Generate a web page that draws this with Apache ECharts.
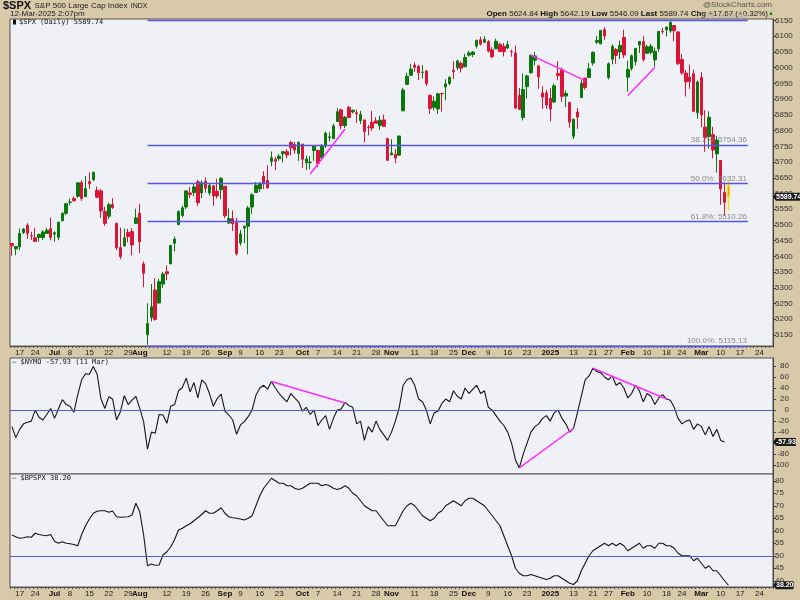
<!DOCTYPE html>
<html><head><meta charset="utf-8">
<script src="https://cdn.jsdelivr.net/npm/echarts@6/dist/echarts.min.js"></script>
<style>html,body{margin:0;padding:0;background:#D8C9A9}#c{width:800px;height:600px}</style>
</head><body><div id="c"></div><script>
// ---------- categories ----------
const startDate = '2024-06-13', endDate = '2025-03-27';
const holidays = ['2024-06-19','2024-07-04','2024-09-02','2024-11-28','2024-12-25','2025-01-01','2025-01-09','2025-01-20','2025-02-17'];
const tickLabels = [['2024-06-17','17'],['2024-06-24','24'],['2024-07-01','Jul'],['2024-07-08','8'],['2024-07-15','15'],['2024-07-22','22'],['2024-07-29','29'],['2024-08-01','Aug'],['2024-08-12','12'],['2024-08-19','19'],['2024-08-26','26'],['2024-09-03','Sep'],['2024-09-09','9'],['2024-09-16','16'],['2024-09-23','23'],['2024-10-01','Oct'],['2024-10-07','7'],['2024-10-14','14'],['2024-10-21','21'],['2024-10-28','28'],['2024-11-01','Nov'],['2024-11-11','11'],['2024-11-18','18'],['2024-11-25','25'],['2024-12-02','Dec'],['2024-12-09','9'],['2024-12-16','16'],['2024-12-23','23'],['2025-01-02','2025'],['2025-01-13','13'],['2025-01-21','21'],['2025-01-27','27'],['2025-02-03','Feb'],['2025-02-10','10'],['2025-02-18','18'],['2025-02-24','24'],['2025-03-03','Mar'],['2025-03-10','10'],['2025-03-17','17'],['2025-03-24','24']];
const boldLabels = ['Jul','Aug','Sep','Oct','Nov','Dec','2025','Feb','Mar'];

// ---------- $SPX daily OHLC ----------
const opens = [5441,5424,5431,5476,5499,5466,5459,5460,5460,5473,
5488,5471,5461,5513,5537,5572,5584,5591,5635,5590,
5638,5644,5610,5608,5543,5528,5565,5505,5428,5433,
5476,5479,5505,5537,5376,5151,5206,5293,5252,5312,
5351,5376,5442,5501,5530,5557,5602,5603,5637,5602,
5639,5602,5624,5607,5612,5623,5506,5520,5507,5443,
5490,5496,5557,5603,5615,5655,5641,5702,5709,5711,
5727,5733,5762,5756,5727,5757,5698,5698,5737,5737,
5713,5751,5778,5775,5829,5866,5816,5874,5860,5857,
5832,5834,5810,5827,5831,5816,5834,5775,5723,5725,
5722,5863,5947,5976,6008,6004,5985,5989,5912,5874,
5869,5918,5939,5950,5992,6000,6014,6003,6040,6042,
6069,6089,6081,6083,6057,6060,6074,6068,6063,6052,
6047,5912,5842,5940,5984,6024,6006,5920,5920,5903,
5891,5982,5994,5910,5890,5782,5859,5905,5967,5969,
6015,6081,6076,6121,5969,6027,6058,6050,6096,5970,
5998,6020,6072,6083,6046,6049,6025,6060,6115,6121,
6117,6134,6114,6026,5983,5970,5981,5857,5969,5811,
5781,5787,5726,5705,5603,5624.84];
const highs = [5441.9,5432,5488.5,5490.4,5505.5,5478.3,5490.7,5472.9,5483.1,5490.8,
5523.6,5479.5,5509.7,5539.3,5570.3,5583.1,5590.8,5635.4,5642.5,5655.6,
5666.9,5669.7,5622.5,5614.1,5557.5,5570.4,5585.3,5508,5491.6,5488.7,
5487.7,5489.5,5551.4,5566.2,5383.9,5250.9,5312.3,5330.6,5328,5351,
5371.2,5436.5,5463.2,5546.2,5561,5608.3,5620.5,5632.7,5643.2,5641.8,
5651.6,5631.2,5627,5646.9,5651.4,5623.3,5552.7,5546.3,5522.5,5484.2,
5497.9,5560.4,5600.7,5636.3,5636.1,5670.8,5689.7,5733.6,5715.1,5725.4,
5735.3,5741,5767.4,5763.8,5765.1,5757.7,5720.3,5718.8,5753.3,5739.3,
5757.6,5796.8,5795,5822.1,5871.4,5870.4,5846.5,5878.5,5866.9,5866.9,
5863,5834.9,5817.8,5862.8,5842.9,5847.2,5850.9,5775.3,5772.5,5741.4,
5783.4,5936.1,5983.8,6012.5,6017.3,6009.9,6008.2,5993.9,5915.3,5909,
5920.7,5920.7,5963.3,5972.9,6020.8,6025.4,6020.2,6044.2,6053.6,6052.7,
6089.8,6099,6100,6088.5,6065.4,6092.6,6079.7,6078.6,6085.2,6057.7,
6070.7,5935.5,5982.1,5978.3,6040.1,6049.8,6006.2,5940.8,5929.7,5935.1,
5949.3,6021,6000.7,5927.9,5890.6,5837.3,5871.9,5960.6,5967.9,6014.9,
6051.5,6100.8,6118.7,6128.2,6017.2,6074.5,6062.8,6086.6,6120.9,6022.1,
6042.5,6062.9,6084,6101.3,6073.4,6076.3,6063.9,6116.9,6127.5,6129.6,
6147.4,6134.5,6114.8,6043.7,5992.6,6009.8,5993.7,5959.4,5986.1,5865.1,
5860.6,5812.1,5783,5705.4,5636.3,5642.19];
const lows = [5402.5,5403.8,5420.4,5471.3,5455.6,5452,5447.6,5446.6,5451.9,5471.3,
5451.1,5446.5,5451.1,5513,5531.6,5562.5,5574.6,5586.4,5576.5,5589.5,
5614.8,5639,5584.8,5522.8,5497,5518.8,5550.9,5419.9,5390.9,5430.7,
5444.4,5403.6,5504,5410.4,5302,5119.3,5193.6,5195.5,5249.8,5300.6,
5324.4,5376,5415.8,5501,5525.2,5550.7,5585.5,5591.6,5560.9,5585.2,
5602.3,5593.5,5560.9,5583.7,5581.3,5521.1,5503.7,5480.8,5402.6,5434.5,
5441.7,5406.9,5535.5,5601.6,5604.5,5614.1,5615.1,5686.4,5674.5,5704.2,
5698.9,5712.1,5721,5727.3,5703.5,5681.3,5674.5,5677.3,5702.8,5683.5,
5705.2,5745,5764.8,5775,5829,5804.5,5808.4,5840.3,5854.2,5824.8,
5821.2,5762.4,5784.9,5799.9,5823.1,5802.4,5811.3,5703.6,5722.5,5696.5,
5721.5,5862.5,5946.5,5975.5,5986.7,5960.1,5965.9,5942.3,5853,5865.1,
5853.3,5860.6,5896.4,5944.4,5963.9,5992.3,5984.9,6003,6035.3,6033.4,
6061.1,6070.7,6079,6048.6,6029.9,6060,6051.2,6035.8,6059.1,6035.2,
5867.8,5866.1,5832.3,5902.6,5981.4,6007.4,5932.9,5869.2,5868.9,5829.5,
5888.7,5960,5890.7,5874.8,5809.4,5773.4,5805.5,5905,5930.2,5969,
6006.9,6076.1,6074.7,6088.7,5962.9,6010.8,6012.7,6027.5,6030.9,5923.9,
5990.9,6007.1,6046.8,6019.96,6044.8,6042.3,6003,6051,6107.6,6099.5,
6111.2,6084.6,6008.6,5977.8,5908.5,5932.7,5858.8,5837.7,5810.9,5732.6,
5742.4,5711.6,5666.3,5564,5528.4,5546.09];
const closes = [5433.7,5431.6,5473.2,5487,5473.2,5464.6,5447.9,5469.3,5477.9,5482.9,
5460.5,5475.1,5509,5537,5567.2,5572.9,5577,5633.9,5584.5,5615.4,
5631.2,5667.2,5588.3,5544.6,5505,5564.4,5555.7,5427.1,5399.2,5459.1,
5463.5,5436.4,5522.3,5446.7,5346.6,5186.3,5240,5199.5,5319.3,5344.2,
5344.4,5434.4,5455.2,5543.2,5554.3,5608.3,5597.1,5620.9,5570.6,5634.6,
5616.8,5625.8,5592.2,5592,5648.4,5528.9,5520.1,5503.4,5408.4,5471.1,
5495.5,5554.1,5595.8,5626,5633.1,5634.6,5618.3,5713.6,5702.6,5718.6,
5732.9,5722.3,5745.4,5738.2,5762.5,5708.8,5709.5,5699.9,5751.1,5695.9,
5751.1,5792,5780.1,5815,5859.9,5815.3,5842.5,5841.5,5864.7,5854,
5851.2,5797.4,5809.9,5808.1,5823.5,5832.9,5813.7,5705.5,5728.8,5712.7,
5782.8,5929,5973.1,5995.5,6001.4,5984,5985.4,5949.2,5870.6,5893.6,
5917,5917.1,5948.7,5969.3,5987.4,6021.6,5998.7,6032.4,6047.2,6049.9,
6086.5,6075.1,6090.3,6052.9,6034.9,6084.2,6051.3,6051.1,6074.1,6050.6,
5872.2,5867.1,5930.9,5974.1,6040,6037.6,5970.8,5906.9,5881.6,5868.6,
5942.5,5975.4,5909,5918.3,5827,5836.2,5842.9,5949.9,5937.3,5996.7,
6049.2,6086.4,6118.7,6101.2,6012.3,6067.7,6039.3,6071.2,6040.5,5994.6,
6037.9,6061.5,6083.6,6026,6066.4,6068.5,6052,6115.1,6114.6,6129.6,
6144.2,6117.5,6013.1,5983.3,5955.3,5956.1,5861.6,5954.5,5849.7,5778.2,
5842.6,5738.5,5770.2,5614.6,5572.1,5589.74];

// ---------- $NYMO ----------
const nymo = [-30,-50,-35,-25,-22,-20,0,-13,-18,-8,
3,-15,2,19,10,7,-4,28,55,66,
65,79,65,20,3,24,20,-18,-3,26,
10,18,25,3,-21,-71,-40,-42,-8,-9,
-24,7,10,35,41,58,33,50,22,55,
48,30,7,21,29,-2,-9,-18,-44,-27,
-21,-12,0,27,40,45,38,52,40,30,
22,15,30,22,15,-2,5,-8,0,-28,
-18,-10,-35,-15,0,2,14,8,5,-25,
-20,-55,-30,-40,-20,-35,-45,-55,-40,-20,
5,45,55,58,45,20,15,0,-25,-5,
-2,12,20,15,35,25,20,40,30,38,
45,30,35,5,0,-10,-20,-28,-40,-60,
-90,-105,-80,-60,-40,-30,-25,-15,-10,-20,
-5,0,-15,-25,-40,-33,-5,25,55,62,
76,70,68,60,55,62,45,50,40,22,
30,45,35,15,30,25,10,22,28,20,
18,5,-15,-25,-20,-18,-35,-25,-30,-45,
-30,-48,-35,-55,-57.93];

// ---------- $BPSPX ----------
const bpspx = [58.3,57.6,57,57.2,57.6,57.4,59,58.5,58.2,58,
58.5,55.8,55,55.6,55,54.8,54.5,54,58.5,62,
64.7,67,67.8,68,68,67.4,67.9,65.6,65.4,65.5,
65.6,66.3,71,67.6,58.3,46,46.7,46.2,46.3,50.3,
51.6,53.5,56.5,60.3,61,62,62.8,64,65.2,66.5,
68,67,67,68,69.2,67,65.6,65.2,65,64.7,
64.3,65,66,70,74,77,79,81,80,79,
79,78,78,77,76.5,77,78,79,79,79,
78,78.5,78,77,76.5,77,78,77,75,74,
72,70,69,68,68,66,64,62,62,62,
65,68,70,71,70,68,66,65,64,65,
67,68,70,71,72,71,70,72,73,73,
72,71,70,68,66,64,62,58,54,50,
45,43,42,42,42.5,42,41.5,41,40.5,41,
42,42,41,40,39,38.5,40,44,47,50,
52,53,54,55,54,55,54,55,54,52,
53,54,55,53,54,54,53,55,55,54,
54,53,51,50,50,50,48,49,47,45,
46,44,44,42,40,38.2];

// ---------- annotations ----------
const fibLevels = [6149.49, 5754.36, 5632.31, 5510.26, 5115.13];
const fibLabels = ['0.0%: 6149.49', '38.2%: 5754.36', '50.0%: 5632.31', '61.8%: 5510.26', '100.0%: 5115.13'];
const fibStart = '2024-08-05', fibEnd = '2025-03-19';
const priceTrendLines = [[['2024-10-03', 5662], ['2024-10-16', 5805]], [['2024-12-24', 6040], ['2025-01-16', 5959]], [['2025-02-03', 5912], ['2025-02-12', 6001]]];
const nymoTrendLines = [[['2024-09-19', 52], ['2024-10-16', 13]], [['2024-12-19', -105], ['2025-01-13', -33]], [['2025-01-21', 76], ['2025-02-18', 20]]];
const priceTicks = [5150,5200,5250,5300,5350,5400,5450,5500,5550,5600,5650,5700,5750,5800,5850,5900,5950,6000,6050,6100,6150];
const nymoTicks = [-100,-80,-60,-40,-20,0,20,40,60,80];
const bpspxTicks = [40,45,50,55,60,65,70,75,80];

function tradingDays() {
  const out = [];
  let t = Date.parse(startDate + 'T00:00:00Z');
  const e = Date.parse(endDate + 'T00:00:00Z');
  while (t <= e) {
    const d = new Date(t), wd = d.getUTCDay(), s = d.toISOString().slice(0, 10);
    if (wd !== 0 && wd !== 6 && holidays.indexOf(s) < 0) out.push(s);
    t += 86400000;
  }
  return out;
}
const dates = tradingDays();
const labelMap = {};
tickLabels.forEach(p => { labelMap[p[0]] = p[1]; });
const xFmt = v => { const t = labelMap[v]; if (!t) return ''; return boldLabels.indexOf(t) >= 0 ? '{b|' + t + '}' : t; };

const GREEN = '#0B760B', RED = '#DA1537', MAG = '#FF2BFF', BLUE = '#5656E6';
const lastIdx = closes.length - 1;
const candleData = opens.map((o, i) => {
  const v = [o, closes[i], lows[i], highs[i]];
  if (i === lastIdx) return { value: v, itemStyle: { color: '#E2283F', color0: '#E2283F', borderColor: '#F0E21A', borderColor0: '#F0E21A', borderWidth: 1.6 } };
  return v;
});

const grids = [
  { left: 10, right: 27, top: 19, height: 327 },
  { left: 10, right: 27, top: 358, height: 116 },
  { left: 10, right: 27, top: 474, height: 113 }
].map(g => Object.assign(g, { show: true, backgroundColor: '#F0F0F7', borderColor: '#555', borderWidth: 1, containLabel: false }));

function xAxis(gi, showLabels) {
  return {
    type: 'category', gridIndex: gi, data: dates, boundaryGap: true,
    axisLine: { show: true, lineStyle: { color: '#555', width: 1 } },
    axisTick: { show: showLabels, interval: 0, length: 2, lineStyle: { color: '#555', width: 1 } },
    axisLabel: { show: showLabels, interval: 0, formatter: xFmt, margin: 3, fontSize: 8, color: '#222', fontFamily: 'Liberation Sans',
      rich: { b: { fontWeight: 'bold', fontSize: 8, color: '#111', fontFamily: 'Liberation Sans' } } },
    splitLine: { show: false }
  };
}
function yAxis(gi, min, max, ticks, align, margin) {
  return {
    type: 'value', gridIndex: gi, position: 'right', min: min, max: max, scale: true,
    axisLine: { show: true, lineStyle: { color: '#444', width: 1 } },
    axisTick: { show: true, customValues: ticks, length: 3, lineStyle: { color: '#444' } },
    axisLabel: { show: true, customValues: ticks, formatter: v => String(v), fontSize: 8, color: '#333', fontFamily: 'Liberation Sans', align: align, margin: margin },
    splitLine: { show: false }
  };
}
const trend = (pair) => [{ coord: pair[0], lineStyle: { color: MAG, width: 1.5, type: 'solid' } }, { coord: pair[1] }];

const priceMarks = fibLevels.map((lv, i) => [
  { coord: [fibStart, lv], lineStyle: { color: BLUE, width: 1.3, type: 'solid' },
    label: { show: true, formatter: fibLabels[i], position: 'insideEndTop', color: i === 0 ? '#aaa' : '#8a8a8a', fontSize: 8, fontFamily: 'Liberation Sans', distance: 1 } },
  { coord: [fibEnd, lv] }
]).concat(priceTrendLines.map(trend));

const option = {
  animation: false,
  backgroundColor: '#D8C9A9',
  grid: grids,
  xAxis: [xAxis(0, true), xAxis(1, false), xAxis(2, true)],
  yAxis: [yAxis(0, 5115, 6155, priceTicks, 'left', 2), yAxis(1, -116, 94.5, nymoTicks, 'right', 16), yAxis(2, 37.5, 82.7, bpspxTicks, 'left', 2)],
  series: [
    { type: 'candlestick', xAxisIndex: 0, yAxisIndex: 0, data: candleData, barWidth: 3,
      itemStyle: { color: GREEN, color0: RED, borderColor: GREEN, borderColor0: RED, borderWidth: 1 },
      markLine: { silent: true, symbol: ['none', 'none'], label: { show: false }, data: priceMarks } },
    { type: 'line', xAxisIndex: 1, yAxisIndex: 1, data: nymo, symbol: 'none', lineStyle: { color: '#151515', width: 1.1 },
      markLine: { silent: true, symbol: ['none', 'none'], label: { show: false },
        data: [{ yAxis: 0, lineStyle: { color: BLUE, width: 1.2, type: 'solid' } }].concat(nymoTrendLines.map(trend)) } },
    { type: 'line', xAxisIndex: 2, yAxisIndex: 2, data: bpspx, symbol: 'none', lineStyle: { color: '#151515', width: 1.1 },
      markLine: { silent: true, symbol: ['none', 'none'], label: { show: false },
        data: [{ yAxis: 50, lineStyle: { color: BLUE, width: 1.2, type: 'solid' } }] } }
  ],
  graphic: [
    { type: 'text', left: 3, top: 0, style: { text: '{a|$SPX} {b|S&P 500 Large Cap Index} {c|INDX}', rich: {
      a: { fontSize: 11, fontWeight: 'bold', fontFamily: 'Liberation Sans', fill: '#111' },
      b: { fontSize: 8, fontFamily: 'Liberation Sans', fill: '#222' },
      c: { fontSize: 7, fontFamily: 'Liberation Sans', fill: '#222' } } } },
    { type: 'text', left: 10, top: 10, style: { text: '12-Mar-2025 2:07pm', fontSize: 8, fontFamily: 'Liberation Sans', fill: '#222' } },
    { type: 'text', right: 28, top: 1, style: { text: '@StockCharts.com', fontSize: 8, fontFamily: 'Liberation Sans', fill: '#555' } },
    { type: 'text', right: 32, top: 10, style: { text: '{k|Open} 5624.84 {k|High} 5642.19 {k|Low} 5546.09 {k|Last} 5589.74 {k|Chg} +17.67 (+0.32%)', fontSize: 8, fontFamily: 'Liberation Sans', fill: '#222',
      rich: { k: { fontWeight: 'bold', fontSize: 8, fontFamily: 'Liberation Sans', fill: '#111' } } } },
    { type: 'text', left: 768, top: 10, style: { text: '▲', fontSize: 6, fill: '#0A8A0A' } },
    { type: 'rect', shape: { x: 13, y: 19.5, width: 3, height: 5 }, style: { fill: '#111' } },
    { type: 'text', left: 19, top: 19, style: { text: '$SPX (Daily) 5589.74', fontSize: 7, fontFamily: 'DejaVu Sans Mono', fill: '#111' } },
    { type: 'text', left: 12, top: 359, style: { text: '— $NYMO -57.93 (11 Mar)', fontSize: 7, fontFamily: 'DejaVu Sans Mono', fill: '#111' } },
    { type: 'text', left: 12, top: 475, style: { text: '— $BPSPX 38.20', fontSize: 7, fontFamily: 'DejaVu Sans Mono', fill: '#111' } }
  ]
};
const chart = echarts.init(document.getElementById('c'), null, { renderer: 'canvas' });
chart.setOption(option);

// last-value badges on the right axes, positioned through the library's own scales
const badgeSpecs = [
  { grid: 0, val: closes[lastIdx] },
  { grid: 1, val: nymo[nymo.length - 1] },
  { grid: 2, val: bpspx[bpspx.length - 1] }
];
const extra = [];
badgeSpecs.forEach(b => {
  const p = chart.convertToPixel({ xAxisIndex: b.grid, yAxisIndex: b.grid }, [dates[0], b.val]);
  const txt = b.val.toFixed(2);
  extra.push({ type: 'polygon', shape: { points: [[773, p[1]], [776, p[1] - 4], [776, p[1] + 4]] }, style: { fill: '#1b1b1b' }, z: 100 });
  extra.push({ type: 'text', x: 776, y: p[1], z: 101,
    style: { text: txt, fontSize: 7, fontWeight: 'bold', fontFamily: 'Liberation Sans Narrow, Liberation Sans', fill: '#fff', backgroundColor: '#1b1b1b', padding: [1, 0, 0, 0], verticalAlign: 'middle', align: 'left' } });
});
chart.setOption({ graphic: option.graphic.concat(extra) });
</script></body></html>
